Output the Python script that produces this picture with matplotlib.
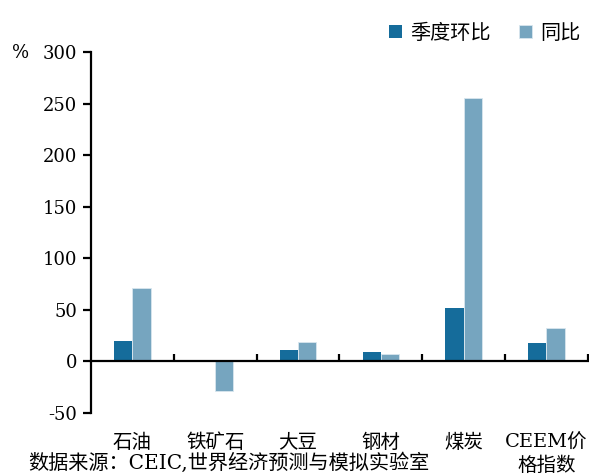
import matplotlib
matplotlib.use('Agg')
import matplotlib.pyplot as plt
import numpy as np

plt.rcParams['font.family'] = ['DejaVu Serif', 'Noto Sans CJK SC', 'DejaVu Sans']

# data (%)
categories = ['石油', '铁矿石', '大豆', '钢材', '煤炭', 'CEEM价\n格指数']
qoq = [20, 0.6, 11, 9.5, 52, 18]      # 季度环比
yoy = [71, -29, 19, 7, 255, 32]       # 同比
yticks = [-50, 0, 50, 100, 150, 200, 250, 300]

c_dark = '#156c9b'
c_light = '#76a5bf'

fig = plt.figure(figsize=(5.89, 4.74), dpi=100)
ax = fig.add_axes([0.1545, 0.1287, 0.8435, 0.7616])

x = np.arange(len(categories))
w = 0.22
ax.bar(x - w / 2, qoq, w, color=c_dark, label='季度环比')
ax.bar(x + w / 2, yoy, w, color=c_light, edgecolor='#d8e6ee', linewidth=0.6, label='同比')

ax.set_ylim(-50, 300)
ax.set_xlim(-0.5, len(categories) - 0.5)
ax.set_yticks(yticks)
ax.set_yticklabels([str(v) for v in yticks], fontsize=13)

# x axis sits on zero, boundary ticks point up
ax.spines['bottom'].set_position(('data', 0))
ax.spines['top'].set_visible(False)
ax.spines['right'].set_visible(False)
ax.spines['left'].set_linewidth(1.6)
ax.spines['bottom'].set_linewidth(1.6)
ax.spines['left'].set_bounds(-50, 300)

ax.set_xticks(x)
ax.set_xticklabels(categories, fontsize=14, linespacing=1.3, va='top')
ax.tick_params(axis='x', which='major', length=0, pad=52)
ax.set_xticks(np.arange(len(categories)) + 0.5, minor=True)
ax.tick_params(axis='x', which='minor', direction='in', length=5, width=1.6)
ax.tick_params(axis='y', direction='out', length=6, width=1.6, pad=4)

fig.text(12 / 589, 1 - 53 / 474, '%', fontsize=13, va='center', ha='left')

fig.legend(loc='center right', bbox_to_anchor=(580 / 589, 1 - 33 / 474), ncol=2, frameon=False,
           fontsize=14.5, handlelength=0.65, handleheight=0.65, handletextpad=0.4,
           columnspacing=1.4, borderaxespad=0, borderpad=0)

fig.text(28 / 589, 1 - 463 / 474, '数据来源：CEIC,世界经济预测与模拟实验室', fontsize=14.5,
         va='center', ha='left')

fig.savefig('out.png', dpi=100)
